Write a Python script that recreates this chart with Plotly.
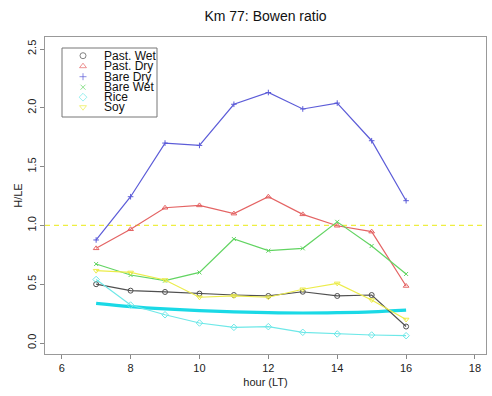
import plotly.graph_objects as go

hours = [7, 8, 9, 10, 11, 12, 13, 14, 15, 16]
past_wet = [0.50, 0.445, 0.434, 0.42, 0.408, 0.40, 0.436, 0.40, 0.408, 0.14]
past_dry = [0.805, 0.967, 1.15, 1.17, 1.10, 1.244, 1.094, 0.997, 0.947, 0.485]
bare_dry = [0.876, 1.244, 1.70, 1.68, 2.03, 2.13, 1.99, 2.04, 1.72, 1.21]
bare_wet = [0.672, 0.578, 0.53, 0.60, 0.884, 0.785, 0.805, 1.03, 0.825, 0.587]
rice = [0.54, 0.323, 0.24, 0.17, 0.133, 0.139, 0.091, 0.077, 0.068, 0.062]
soy = [0.615, 0.60, 0.536, 0.389, 0.40, 0.389, 0.457, 0.507, 0.366, 0.20]
rice_fit = [0.337, 0.31, 0.29, 0.275, 0.265, 0.258, 0.255, 0.258, 0.265, 0.28]
ref_level = 1.0

series_names = ["Past. Wet", "Past. Dry", "Bare Dry", "Bare Wet", "Rice", "Soy"]
x_ticks = [6, 8, 10, 12, 14, 16, 18]
y_ticks = [0.0, 0.5, 1.0, 1.5, 2.0, 2.5]
y_tick_text = ["0.0", "0.5", "1.0", "1.5", "2.0", "2.5"]

colors = ["#505050", "#e46464", "#5c5cd8", "#62d462", "#6ee8e8", "#ecec4a"]
symbols = ["circle-open", "triangle-up-open", "cross-thin-open", "x-thin-open",
           "diamond-open", "triangle-down-open"]
sizes = [5, 5, 4, 4, 5, 5]
values = [past_wet, past_dry, bare_dry, bare_wet, rice, soy]

fig = go.Figure()

# Reference line at H/LE = 1
fig.add_shape(type="line", xref="paper", x0=0, x1=1, yref="y", y0=ref_level, y1=ref_level,
              line=dict(color="#eeee40", width=1.2, dash="5px,4px"), layer="below")

# thick smoothed cyan line
fig.add_trace(go.Scatter(x=hours, y=rice_fit, mode="lines", line=dict(color="#1ad9e6", width=3.2,
                                                                         shape="spline"),
                         showlegend=False, hoverinfo="skip"))

for name, vals, col, sym, sz in zip(series_names, values, colors, symbols, sizes):
    fig.add_trace(go.Scatter(x=hours, y=vals, mode="lines+markers", name=name,
                             line=dict(color=col, width=1.2),
                             marker=dict(symbol=sym, size=sz, color=col, line=dict(color=col, width=1)),
                             showlegend=False))

# Manual compact legend (pixel-like coordinates on an overlay axis)
leg_x_sym = 83
leg_x_text = 102
leg_rows = [55.7, 66.2, 76.7, 87.2, 97.2, 107.2]
fig.add_trace(go.Scatter(x=[leg_x_sym] * 6, y=leg_rows, mode="markers", xaxis="x2", yaxis="y2",
                         marker=dict(symbol=symbols, size=[s + 1 for s in sizes], color=colors,
                                     line=dict(color=colors, width=1)),
                         showlegend=False, hoverinfo="skip"))
for name, yy in zip(series_names, leg_rows):
    fig.add_annotation(x=leg_x_text, y=yy, xref="x2", yref="y2", text=name, showarrow=False,
                       xanchor="left", yanchor="middle",
                       font=dict(family="Liberation Sans Narrow, Liberation Sans, Arial", size=12, color="#111"))
fig.add_shape(type="rect", xref="x2", yref="y2", x0=62, x1=157, y0=48, y1=117,
              line=dict(color="#777", width=1), fillcolor="rgba(255,255,255,0)")

font_main = "Liberation Sans, Arial, Helvetica, sans-serif"
fig.update_layout(
    width=492, height=396,
    margin=dict(l=45, r=6, t=37, b=42),
    paper_bgcolor="white", plot_bgcolor="white",
    font=dict(family=font_main, size=11, color="#222"),
    title=dict(text="Km 77: Bowen ratio", x=0.5, xref="paper", xanchor="center",
               y=1 - 16 / 396, yanchor="middle", font=dict(size=14, color="#111")),
    xaxis=dict(range=[5.515, 18.32], tickmode="array", tickvals=x_ticks, ticks="outside", ticklen=4,
               tickcolor="#888", showgrid=False, zeroline=False, showline=True, linecolor="#999",
               mirror=True, title=dict(text="hour (LT)", standoff=5, font=dict(size=11)),
               tickfont=dict(size=11)),
    yaxis=dict(range=[-0.0935, 2.602], tickmode="array", tickvals=y_ticks, ticktext=y_tick_text,
               ticks="outside", ticklen=4, tickcolor="#888", tickangle=-90, showgrid=False,
               zeroline=False, showline=True, linecolor="#999", mirror=True,
               title=dict(text="H/LE", standoff=0, font=dict(size=11)), tickfont=dict(size=11)),
    xaxis2=dict(overlaying="x", range=[45, 486], visible=False),
    yaxis2=dict(overlaying="y", range=[354, 37], visible=False),
)

fig.write_html("out.html")
